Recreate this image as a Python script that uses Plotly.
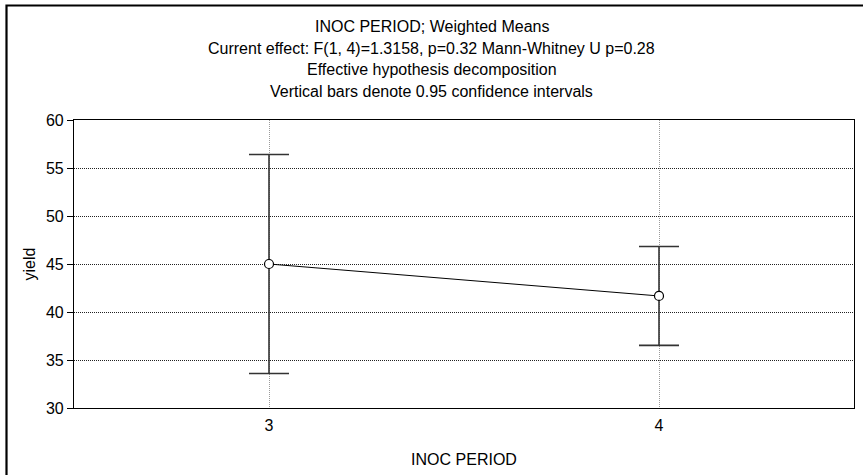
import plotly.graph_objects as go

# Weighted means of yield by inoculation period, with 0.95 confidence intervals
periods = [3, 4]
mean_yield = [45.0, 41.67]
ci_half = [11.4, 5.15]

title_lines = [
    "INOC PERIOD; Weighted Means",
    "Current effect: F(1, 4)=1.3158, p=0.32 Mann-Whitney U p=0.28",
    "Effective hypothesis decomposition",
    "Vertical bars denote 0.95 confidence intervals",
]
y_ticks = [30, 35, 40, 45, 50, 55, 60]

FONT = "Liberation Sans, Arial, sans-serif"
FS = 16

fig = go.Figure()
fig.add_trace(go.Scatter(
    x=periods,
    y=mean_yield,
    mode="lines+markers",
    line=dict(color="black", width=1),
    marker=dict(symbol="circle", size=9, color="white",
                line=dict(color="black", width=1.2)),
    error_y=dict(type="data", array=ci_half, visible=True,
                 color="#333333", thickness=1.6, width=20),
    showlegend=False,
))

# plot area in pixels: left 74, right 854, top 120, bottom 408
L, R, T, B = 74, 854, 120, 408
W, H = R - L, B - T

def px_x(p):
    return (p - L) / W

def px_y(p):
    return (B - p) / H

# outer frame around the whole figure
fig.add_shape(type="rect", xref="paper", yref="paper",
              x0=px_x(6.5), x1=px_x(900), y0=px_y(520), y1=px_y(5.5),
              line=dict(color="black", width=2.2), fillcolor="rgba(0,0,0,0)",
              layer="below")

# four-line heading, one annotation per line
for i, line in enumerate(title_lines):
    fig.add_annotation(text=line, xref="paper", yref="paper",
                       x=px_x(431.5), y=px_y(26 + 22 * i),
                       xanchor="center", yanchor="middle", showarrow=False,
                       font=dict(family=FONT, size=FS, color="black"))

dots = "1px,1px"

fig.update_layout(
    width=863, height=475,
    margin=dict(l=L, r=863 - R, t=T, b=475 - B),
    paper_bgcolor="white", plot_bgcolor="white",
    font=dict(family=FONT, size=FS, color="black"),
    xaxis=dict(
        range=[2.5, 4.5], tickvals=periods, ticktext=[str(p) for p in periods],
        showgrid=True, gridcolor="#9a9a9a", griddash=dots, gridwidth=1,
        showline=True, linecolor="black", linewidth=1.2, mirror=True,
        ticks="", zeroline=False, ticklabelstandoff=3,
        title=dict(text="INOC PERIOD", standoff=20,
                   font=dict(family=FONT, size=FS)),
        tickfont=dict(family=FONT, size=FS),
    ),
    yaxis=dict(
        range=[30, 60], tickvals=y_ticks,
        showgrid=True, gridcolor="#222222", griddash=dots, gridwidth=1,
        showline=True, linecolor="black", linewidth=1.2, mirror=True,
        ticks="outside", ticklen=6, tickcolor="black", zeroline=False,
        title=dict(text="yield", standoff=6,
                   font=dict(family=FONT, size=FS)),
        tickfont=dict(family=FONT, size=FS),
    ),
)

fig.write_html("out.html")
